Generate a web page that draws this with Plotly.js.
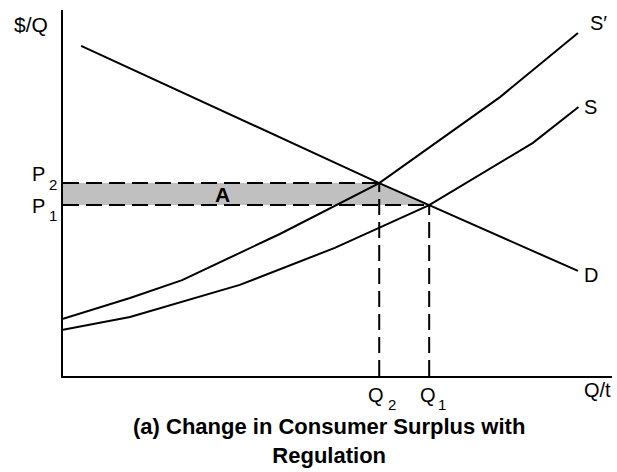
<!DOCTYPE html>
<html>
<head>
<meta charset="utf-8">
<script src="https://cdn.plot.ly/plotly-3.0.1.min.js"></script>
<style>html,body{margin:0;padding:0;background:#fff;}#chart{width:617px;height:472px;}</style>
</head>
<body>
<div id="chart"></div>
<script>
// Equilibrium values (arbitrary units: quantity 0-100, price 0-100)
var Q2 = 57.6, Q1 = 66.7;
var P2 = 52.7, P1 = 46.7;

// Demand curve D
var demandQ = [3.3, 57.6, 66.7, 93.8];
var demandP = [90.2, 52.7, 46.7, 28.7];

// Supply with regulation S'
var supplyRegQ = [0, 12.2, 21.7, 39.5, 57.6, 79.6, 93.8];
var supplyRegP = [15.6, 21.3, 26.2, 38.8, 52.7, 76.2, 93.7];

// Original supply S
var supplyQ = [0, 12.2, 32.2, 49.5, 66.7, 79.6, 85.6, 93.9];
var supplyP = [12.6, 16.1, 24.9, 35.0, 46.7, 58.2, 63.7, 73.5];

// Labels
var curveLabels = ["S\u2032", "S", "D"];
var axisLabels = ["$/Q", "Q/t"];
var priceLabels = ["P", "P"], priceSubs = ["2", "1"];
var qtyLabels = ["Q", "Q"], qtySubs = ["2", "1"];
var areaLabel = "A";
var titleText = "(a) Change in Consumer Surplus with<br>Regulation";

var FONT = "Liberation Sans, Arial, Helvetica, sans-serif";
var L = 63, T = 10, W = 549, H = 366;
function PX(p){ return (p - L) / W; }
function PY(p){ return (T + H - p) / H; }
function ann(text, px, py, size, bold){
  return {text: bold ? "<b>" + text + "</b>" : text, xref: "paper", yref: "paper",
    x: PX(px), y: PY(py), xanchor: "center", yanchor: "middle", showarrow: false,
    font: {family: FONT, size: size, color: "#000"}};
}

var dash = "16px,7px";
var traces = [
  {x: [0, Q2, Q1, 0, 0], y: [P2, P2, P1, P1, P2], mode: "lines", fill: "toself",
   fillcolor: "#c0c0c0", line: {width: 0, color: "rgba(0,0,0,0)"}},
  {x: [0, Q2], y: [P2, P2], mode: "lines", line: {color: "#000", width: 2, dash: dash}},
  {x: [0, Q1], y: [P1, P1], mode: "lines", line: {color: "#000", width: 2, dash: dash}},
  {x: [Q2, Q2], y: [0, P2], mode: "lines", line: {color: "#000", width: 2, dash: dash}},
  {x: [Q1, Q1], y: [0, P1], mode: "lines", line: {color: "#000", width: 2, dash: dash}},
  {x: demandQ, y: demandP, mode: "lines", line: {color: "#000", width: 2}},
  {x: supplyRegQ, y: supplyRegP, mode: "lines", line: {color: "#000", width: 2}},
  {x: supplyQ, y: supplyP, mode: "lines", line: {color: "#000", width: 2}}
];

var annotations = [
  ann(axisLabels[0], 30.5, 24, 21),
  ann(axisLabels[1], 597.5, 390, 20),
  ann(priceLabels[0], 38.5, 173.5, 20), ann(priceSubs[0], 52.5, 184, 15),
  ann(priceLabels[1], 38.5, 205.5, 20), ann(priceSubs[1], 52.5, 216, 15),
  ann(qtyLabels[0], 375.5, 395, 20), ann(qtySubs[0], 391.5, 404, 15),
  ann(qtyLabels[1], 427.5, 395, 20), ann(qtySubs[1], 442, 404, 15),
  ann(areaLabel, 222.5, 194.5, 21, true),
  ann(curveLabels[0], 598.5, 23.5, 20),
  ann(curveLabels[1], 590.5, 106.5, 20),
  ann(curveLabels[2], 591, 275, 20),
  ann(titleText, 329, 441, 22, true)
];

var axisBase = {range: [0, 100], showline: true, linewidth: 2, linecolor: "#000",
  showgrid: false, zeroline: false, showticklabels: false, ticks: "", fixedrange: true};

var layout = {
  width: 617, height: 472,
  margin: {l: L, r: 617 - L - W, t: T, b: 472 - T - H, pad: 0},
  paper_bgcolor: "#fff", plot_bgcolor: "#fff",
  showlegend: false, hovermode: false,
  xaxis: Object.assign({}, axisBase),
  yaxis: Object.assign({}, axisBase),
  annotations: annotations,
  font: {family: FONT, color: "#000"}
};

Plotly.newPlot("chart", traces, layout, {staticPlot: true, displayModeBar: false});
</script>
</body>
</html>
